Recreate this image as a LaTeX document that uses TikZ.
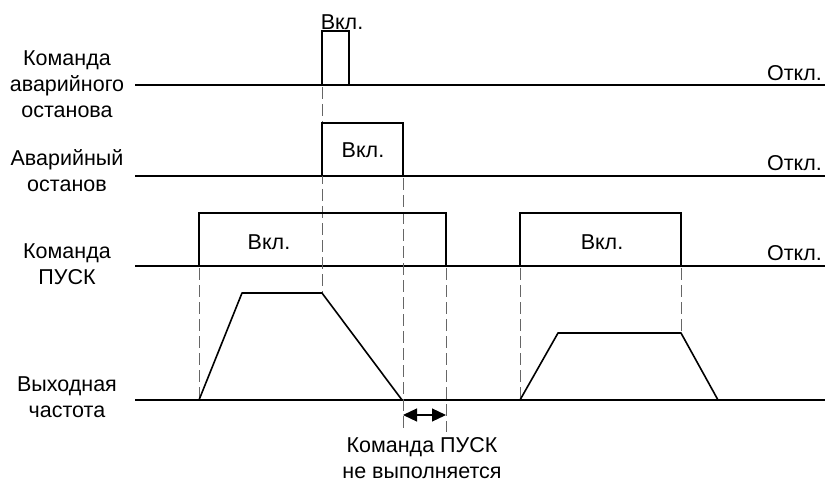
\documentclass[tikz,border=0pt]{standalone}
\usepackage{fontspec}
\setmainfont{Liberation Sans}
\usetikzlibrary{arrows.meta}
\begin{document}
\begin{tikzpicture}[x=1pt,y=-1pt,
  lbl/.style={inner sep=0pt,align=center,font=\fontsize{21.5}{26}\selectfont},
  axis/.style={line width=2pt},
  pulse/.style={line width=2pt,line join=miter},
  freq/.style={line width=1.6pt,line join=round},
  guide/.style={line width=0.9pt,gray!80!black,dash pattern=on 12pt off 5pt}]
\useasboundingbox (0,0) rectangle (825,484);
% baselines
\draw[axis] (135,85) -- (825,85);
\draw[axis] (135,176) -- (825,176);
\draw[axis] (135,266) -- (825,266);
\draw[axis] (135,400) -- (825,400);
% guides
\draw[guide] (322,87) -- (322,293);
\draw[guide] (403,178) -- (403,432);
\draw[guide] (446,268) -- (446,432);
\draw[guide] (199,268) -- (199,400);
\draw[guide] (520,268) -- (520,400);
\draw[guide] (681,268) -- (681,333);
% pulses
\draw[pulse] (322,85) -- (322,31) -- (349,31) -- (349,85);
\draw[pulse] (322,176) -- (322,123) -- (403,123) -- (403,176);
\draw[pulse] (199,266) -- (199,213) -- (446,213) -- (446,266);
\draw[pulse] (520,266) -- (520,213) -- (681,213) -- (681,266);
% output frequency
\draw[freq] (199,400) -- (242,293) -- (322,293) -- (402,400);
\draw[freq] (520,400) -- (558,333) -- (681,333) -- (718,400);
% arrow
\coordinate (a1) at (403,415);
\coordinate (a2) at (446,415);
\draw[line width=1.2pt,{Triangle[length=14pt,width=13pt]}-{Triangle[length=14pt,width=13pt]}] (a1) -- (a2);
% labels
\node[lbl] (l1) at (67,84) {Команда\\аварийного\\останова};
\node[lbl] (l2) at (67,171) {Аварийный\\останов};
\node[lbl] (l3) at (67,264) {Команда\\ПУСК};
\node[lbl] (l4) at (67,397) {Выходная\\частота};
\node[lbl] (v1) at (342,22) {Вкл.};
\node[lbl] (v2) at (363,150) {Вкл.};
\node[lbl] (v3) at (269,242) {Вкл.};
\node[lbl] (v4) at (602,242) {Вкл.};
\node[lbl,anchor=east] (o1) at (822,73) {Откл.};
\node[lbl,anchor=east] (o2) at (822,163) {Откл.};
\node[lbl,anchor=east] (o3) at (822,253) {Откл.};
\node[lbl] (n1) at (422,458) {Команда ПУСК\\не выполняется};
\end{tikzpicture}
\end{document}
